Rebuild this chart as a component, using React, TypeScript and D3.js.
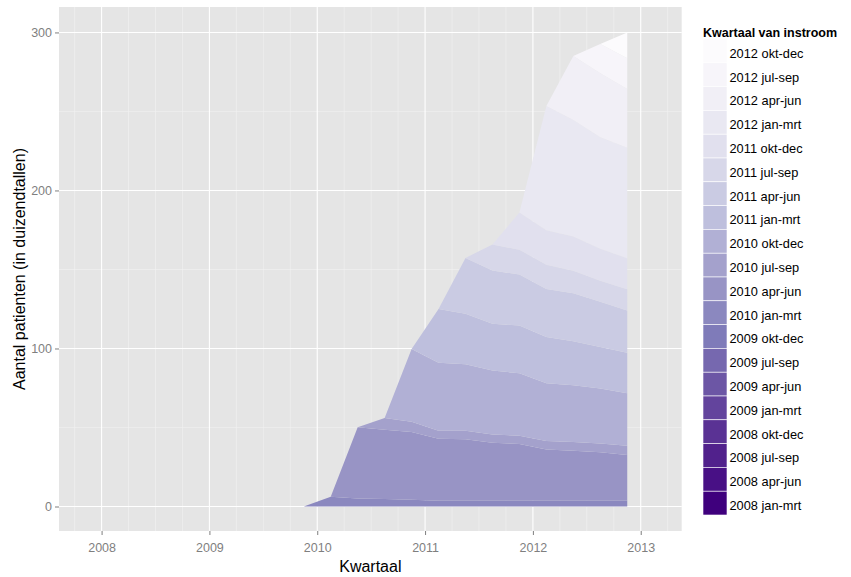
import * as d3 from 'd3';
import { useEffect, useRef } from 'react';

// inflow cohorts, oldest first (stacked from the bottom)
const cohorts = [
  '2008 jan-mrt', '2008 apr-jun', '2008 jul-sep', '2008 okt-dec',
  '2009 jan-mrt', '2009 apr-jun', '2009 jul-sep', '2009 okt-dec',
  '2010 jan-mrt', '2010 apr-jun', '2010 jul-sep', '2010 okt-dec',
  '2011 jan-mrt', '2011 apr-jun', '2011 jul-sep', '2011 okt-dec',
  '2012 jan-mrt', '2012 apr-jun', '2012 jul-sep', '2012 okt-dec',
];

// measurement quarters on the x axis
const periods = [
  '2009 okt-dec',
  '2010 jan-mrt', '2010 apr-jun', '2010 jul-sep', '2010 okt-dec',
  '2011 jan-mrt', '2011 apr-jun', '2011 jul-sep', '2011 okt-dec',
  '2012 jan-mrt', '2012 apr-jun', '2012 jul-sep', '2012 okt-dec',
];

// patients per cohort (x 1000), one value per period
const noInflow = [0, 0, 0, 0, 0, 0, 0, 0, 0, 0, 0, 0, 0];
const inflow2010q1 = [0, 6.2, 5.0, 4.8, 4.2, 3.7, 3.7, 3.7, 3.7, 3.7, 3.7, 3.7, 3.7];
const inflow2010q2 = [0, 0, 45.1, 43.8, 43.0, 39.2, 38.8, 36.7, 35.9, 32.3, 31.6, 30.6, 28.9];
const inflow2010q3 = [0, 0, 0, 7.4, 6.5, 5.1, 5.5, 5.1, 5.2, 5.5, 5.5, 5.5, 5.9];
const inflow2010q4 = [0, 0, 0, 0, 46.0, 43.0, 42.0, 40.5, 39.5, 36.5, 35.9, 34.8, 33.1];
const inflow2011q1 = [0, 0, 0, 0, 0, 34.0, 32.0, 29.7, 30.2, 29.2, 27.8, 26.4, 25.7];
const inflow2011q2 = [0, 0, 0, 0, 0, 0, 35.3, 33.6, 32.3, 30.5, 30.4, 28.5, 26.7];
const inflow2011q3 = [0, 0, 0, 0, 0, 0, 0, 16.5, 15.7, 15.3, 14.3, 13.4, 13.5];
const inflow2011q4 = [0, 0, 0, 0, 0, 0, 0, 0, 23.5, 21.8, 21.6, 20.2, 19.6];
const inflow2012q1 = [0, 0, 0, 0, 0, 0, 0, 0, 0, 78.7, 73.8, 70.5, 70.0];
const inflow2012q2 = [0, 0, 0, 0, 0, 0, 0, 0, 0, 0, 40.5, 40.6, 37.1];
const inflow2012q3 = [0, 0, 0, 0, 0, 0, 0, 0, 0, 0, 0, 18.5, 19.5];
const inflow2012q4 = [0, 0, 0, 0, 0, 0, 0, 0, 0, 0, 0, 0, 16.2];

const cohortSeries = [
  noInflow, noInflow, noInflow, noInflow,
  noInflow, noInflow, noInflow, noInflow,
  inflow2010q1, inflow2010q2, inflow2010q3, inflow2010q4,
  inflow2011q1, inflow2011q2, inflow2011q3, inflow2011q4,
  inflow2012q1, inflow2012q2, inflow2012q3, inflow2012q4,
];

const xTicks = [2008, 2009, 2010, 2011, 2012, 2013];
const yTicks = [0, 100, 200, 300];
const yMinorTicks = [50, 150, 250];

// RColorBrewer Purples, light to dark
const purples = ['#fcfbfd', '#efedf5', '#dadaeb', '#bcbddc', '#9e9ac8', '#807dba', '#6a51a3', '#54278f', '#3f007d'];

const quarterNames = ['jan-mrt', 'apr-jun', 'jul-sep', 'okt-dec'];
const quarterMid = (label: string) => {
  const [year, q] = label.split(' ');
  return +year + (quarterNames.indexOf(q) * 3 + 1.5) / 12;
};

const FONT = "'Liberation Sans', Arial, sans-serif";
const W = 851;
const H = 577;
const panel = { left: 59, right: 681.7, top: 7, bottom: 531 };

function StackedArea() {
  const svgElement = useRef<SVGSVGElement | null>(null);

  useEffect(() => {
    if (!svgElement.current) return;
    const svg = d3.select(svgElement.current);
    svg.selectAll('*').remove();

    const x = d3.scaleLinear().domain([2007.605, 2013.38]).range([panel.left, panel.right]);
    const y = d3.scaleLinear().domain([-15.5, 316.1]).range([panel.bottom, panel.top]);

    const rows = periods.map((p, i) => {
      const row: Record<string, number> = { t: quarterMid(p) };
      cohorts.forEach((c, j) => (row[c] = cohortSeries[j][i]));
      return row;
    });
    const series = d3.stack<Record<string, number>>().keys(cohorts)(rows);

    const ramp = d3
      .scaleLinear<string>()
      .domain(purples.map((_, i) => i / (purples.length - 1)))
      .range(purples)
      .interpolate(d3.interpolateRgb);
    const colorOf = (i: number) => ramp(1 - i / (cohorts.length - 1));

    // panel background + grid
    svg
      .append('rect')
      .attr('x', panel.left)
      .attr('y', panel.top)
      .attr('width', panel.right - panel.left)
      .attr('height', panel.bottom - panel.top)
      .attr('fill', '#e5e5e5');

    const grid = svg.append('g');
    const xMinor = d3.range(2007.75, 2013.3, 0.25).filter((v) => Math.abs(v - Math.round(v)) > 0.01);
    grid
      .selectAll('.xminor')
      .data(xMinor)
      .join('line')
      .attr('x1', (d) => x(d))
      .attr('x2', (d) => x(d))
      .attr('y1', panel.top)
      .attr('y2', panel.bottom)
      .attr('stroke', '#f2f2f2')
      .attr('stroke-width', 0.6);
    grid
      .selectAll('.yminor')
      .data(yMinorTicks)
      .join('line')
      .attr('x1', panel.left)
      .attr('x2', panel.right)
      .attr('y1', (d) => y(d))
      .attr('y2', (d) => y(d))
      .attr('stroke', '#f2f2f2')
      .attr('stroke-width', 0.6);
    grid
      .selectAll('.xmajor')
      .data(xTicks)
      .join('line')
      .attr('x1', (d) => x(d))
      .attr('x2', (d) => x(d))
      .attr('y1', panel.top)
      .attr('y2', panel.bottom)
      .attr('stroke', '#ffffff')
      .attr('stroke-width', 1.1);
    grid
      .selectAll('.ymajor')
      .data(yTicks)
      .join('line')
      .attr('x1', panel.left)
      .attr('x2', panel.right)
      .attr('y1', (d) => y(d))
      .attr('y2', (d) => y(d))
      .attr('stroke', '#ffffff')
      .attr('stroke-width', 1.1);

    // stacked areas
    const area = d3
      .area<d3.SeriesPoint<Record<string, number>>>()
      .x((d) => x(d.data.t))
      .y0((d) => y(d[0]))
      .y1((d) => y(d[1]));
    svg
      .append('g')
      .selectAll('path')
      .data(series)
      .join('path')
      .attr('d', (s) => area(s) ?? '')
      .attr('fill', (_, i) => colorOf(i));

    // axes
    const xAxis = svg
      .append('g')
      .attr('transform', `translate(0,${panel.bottom})`)
      .call(d3.axisBottom(x).tickValues(xTicks).tickFormat(d3.format('d')).tickSize(4).tickPadding(8));
    const yAxis = svg
      .append('g')
      .attr('transform', `translate(${panel.left},0)`)
      .call(d3.axisLeft(y).tickValues(yTicks).tickFormat(d3.format('d')).tickSize(4).tickPadding(3));
    [xAxis, yAxis].forEach((a) => {
      a.select('.domain').remove();
      a.selectAll('line').attr('stroke', '#7f7f7f');
      a.selectAll('text')
        .attr('fill', '#7f7f7f')
        .style('font-size', '12.5px')
        .style('font-family', FONT);
    });

    // axis titles
    svg
      .append('text')
      .attr('x', (panel.left + panel.right) / 2)
      .attr('y', 572)
      .attr('text-anchor', 'middle')
      .style('font-size', '16px')
      .style('font-family', FONT)
      .text('Kwartaal');
    svg
      .append('text')
      .attr('transform', `translate(25,${(panel.top + panel.bottom) / 2}) rotate(-90)`)
      .attr('text-anchor', 'middle')
      .style('font-size', '16px')
      .style('font-family', FONT)
      .text('Aantal patienten (in duizendtallen)');

    // legend, newest cohort on top
    const legend = svg.append('g').attr('transform', 'translate(703,0)');
    legend
      .append('text')
      .attr('x', 0)
      .attr('y', 37)
      .style('font-size', '12.5px')
      .style('font-weight', 'bold')
      .style('font-family', FONT)
      .text('Kwartaal van instroom');
    const keyH = 23.8;
    const legendItems = cohorts.map((c, i) => ({ name: c, color: colorOf(i) })).reverse();
    const items = legend
      .selectAll('.item')
      .data(legendItems)
      .join('g')
      .attr('transform', (_, i) => `translate(0,${39 + i * keyH})`);
    items
      .append('rect')
      .attr('width', 24)
      .attr('height', keyH)
      .attr('fill', (d) => d.color)
      .attr('stroke', '#ffffff')
      .attr('stroke-width', 0.6);
    items
      .append('text')
      .attr('x', 26.5)
      .attr('y', keyH / 2 + 7)
      .style('font-size', '12.8px')
      .style('font-family', FONT)
      .text((d) => d.name);
  }, []);

  return <svg ref={svgElement} width={W} height={H} style={{ display: 'block', background: '#fff' }} />;
}

export default function App() {
  return (
    <>
      <style>{'body{margin:0}'}</style>
      <StackedArea />
    </>
  );
}
